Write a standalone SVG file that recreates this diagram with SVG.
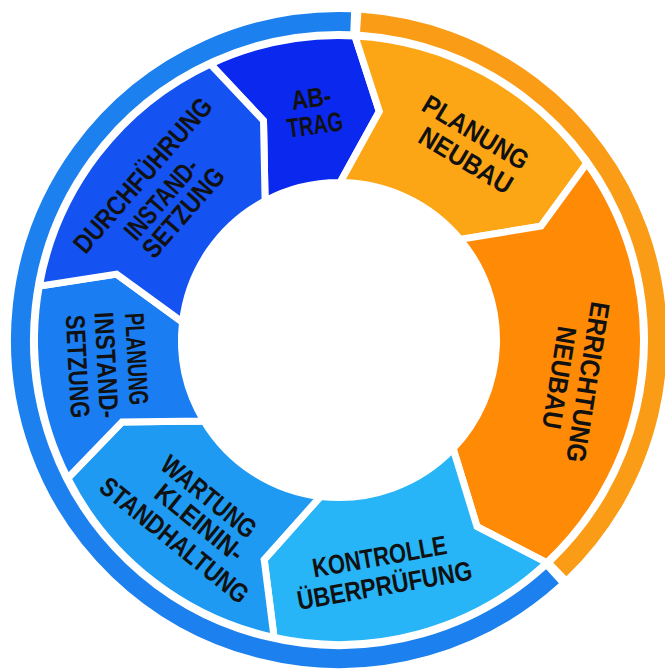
<svg xmlns="http://www.w3.org/2000/svg" width="665" height="669" viewBox="0 0 665 669">
  <style>
    .seg { stroke: #ffffff; stroke-width: 7; stroke-linejoin: miter; stroke-miterlimit: 10; }
    .ring { fill: none; stroke-width: 19; }
    .lbl { font-family: "Liberation Sans", Arial, sans-serif; font-weight: bold; font-size: 27px; fill: #111111; text-anchor: middle; }
  </style>
  <rect width="665" height="669" fill="#ffffff"/>

  <!-- outer phase bands: blue (maintenance) and orange (new build) -->
  <g id="phase-rings">
    <path class="ring" stroke="#1C80EE" d="M 552.5,576.3 A 318.5 318.5 0 1 1 350.7,21.7"/>
    <path class="ring" stroke="#FB9C17" d="M 360.7,22.2 A 318.5 318.5 0 0 1 559.8,569.5"/>
  </g>

  <!-- cycle steps, arrow-shaped sectors pointing clockwise -->
  <g id="abtrag">
    <path class="seg" fill="#0B28EE" d="M 210.3,64.0 A 304.5 304.5 0 0 1 354.9,35.9 L 379.3,111.5 L 340.1,182.5 A 157.5 157.5 0 0 0 265.1,200.9 L 263.5,120.6 Z"/>
    <g transform="translate(313,111) rotate(-8)">
      <text class="lbl" x="0" y="-3.8" textLength="40" lengthAdjust="spacingAndGlyphs">AB-</text>
      <text class="lbl" x="0" y="23.2" textLength="56" lengthAdjust="spacingAndGlyphs">TRAG</text>
    </g>
  </g>

  <g id="planung-neubau">
    <path class="seg" fill="#FCA616" d="M 354.9,35.9 A 304.5 304.5 0 0 1 586.9,163.2 L 541.1,226.1 L 460.2,239.4 A 157.5 157.5 0 0 0 340.1,182.5 L 379.3,111.5 Z"/>
    <g transform="translate(471,146) rotate(31)">
      <text class="lbl" x="-3" y="-4.8" textLength="119" lengthAdjust="spacingAndGlyphs">PLANUNG</text>
      <text class="lbl" x="3" y="24.2" textLength="104" lengthAdjust="spacingAndGlyphs">NEUBAU</text>
    </g>
  </g>

  <g id="errichtung-neubau">
    <path class="seg" fill="#FF8A06" d="M 586.9,163.2 A 304.5 304.5 0 0 1 546.7,562.7 L 477.0,526.5 L 453.1,448.6 A 157.5 157.5 0 0 0 460.2,239.4 L 541.1,226.1 Z"/>
    <g transform="translate(574,380) rotate(99)">
      <text class="lbl" x="0" y="-4.8" textLength="162" lengthAdjust="spacingAndGlyphs">ERRICHTUNG</text>
      <text class="lbl" x="0" y="24.2" textLength="103" lengthAdjust="spacingAndGlyphs">NEUBAU</text>
    </g>
  </g>

  <g id="kontrolle">
    <path class="seg" fill="#27B5F7" d="M 546.7,562.7 A 304.5 304.5 0 0 1 274.1,637.5 L 264.2,559.6 L 320.6,496.4 A 157.5 157.5 0 0 0 453.1,448.6 L 477.0,526.5 Z"/>
    <g transform="translate(382,570.5) rotate(-10)">
      <text class="lbl" x="0" y="-5" textLength="136" lengthAdjust="spacingAndGlyphs">KONTROLLE</text>
      <text class="lbl" x="0" y="24.5" textLength="177" lengthAdjust="spacingAndGlyphs">ÜBERPRÜFUNG</text>
    </g>
  </g>

  <g id="wartung">
    <path class="seg" fill="#1E9AF2" d="M 274.1,637.5 A 304.5 304.5 0 0 1 67.7,478.2 L 122.0,422.0 L 204.0,421.1 A 157.5 157.5 0 0 0 320.6,496.4 L 264.2,559.6 Z"/>
    <g transform="translate(194.5,519.3) rotate(39)">
      <text class="lbl" x="-3" y="-17.3" textLength="114" lengthAdjust="spacingAndGlyphs">WARTUNG</text>
      <text class="lbl" x="6" y="8.7" textLength="106" lengthAdjust="spacingAndGlyphs">KLEININ-</text>
      <text class="lbl" x="-2.5" y="38.2" textLength="183" lengthAdjust="spacingAndGlyphs">STANDHALTUNG</text>
    </g>
  </g>

  <g id="planung-instandsetzung">
    <path class="seg" fill="#1B7DF2" d="M 67.7,478.2 A 304.5 304.5 0 0 1 39.3,286.1 L 116.6,274.1 L 182.5,322.2 A 157.5 157.5 0 0 0 204.0,421.1 L 122.0,422.0 Z"/>
    <g transform="translate(107.3,363.5) rotate(87)">
      <text class="lbl" x="-3" y="-20.3" textLength="92" lengthAdjust="spacingAndGlyphs">PLANUNG</text>
      <text class="lbl" x="1.5" y="10.1" textLength="106" lengthAdjust="spacingAndGlyphs">INSTAND-</text>
      <text class="lbl" x="1.5" y="39.1" textLength="103" lengthAdjust="spacingAndGlyphs">SETZUNG</text>
    </g>
  </g>

  <g id="durchfuehrung-instandsetzung">
    <path class="seg" fill="#1452F2" d="M 39.3,286.1 A 304.5 304.5 0 0 1 210.3,64.0 L 263.5,120.6 L 265.1,200.9 A 157.5 157.5 0 0 0 182.5,322.2 L 116.6,274.1 Z"/>
    <g transform="translate(162.1,195.2) rotate(-49)">
      <text class="lbl" x="2.4" y="-18.5" textLength="196" lengthAdjust="spacingAndGlyphs">DURCHFÜHRUNG</text>
      <text class="lbl" x="-3.2" y="11.1" textLength="98" lengthAdjust="spacingAndGlyphs">INSTAND-</text>
      <text class="lbl" x="1" y="36.5" textLength="110" lengthAdjust="spacingAndGlyphs">SETZUNG</text>
    </g>
  </g>
</svg>
